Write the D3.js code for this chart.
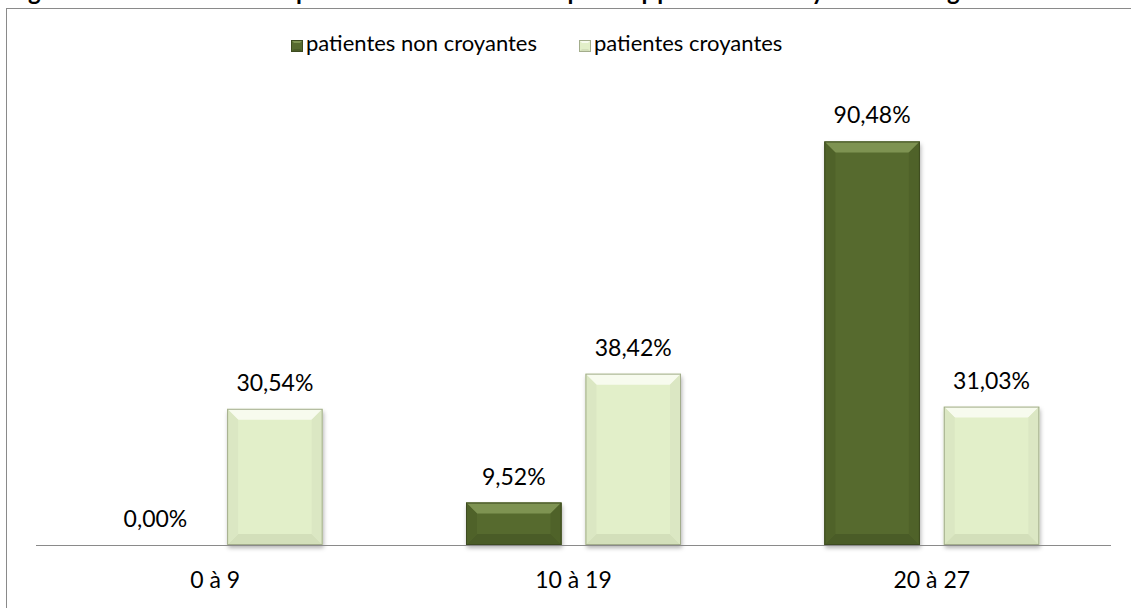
<!DOCTYPE html>
<html>
<head>
<meta charset="utf-8">
<script src="https://cdn.jsdelivr.net/npm/d3@7"></script>
<style>
  body { margin: 0; background: #fff; }
  svg { display: block; font-family: Lato, "Open Sans", sans-serif; }
</style>
</head>
<body>
<div id="chart"></div>
<script>
// values (percent)
const categories = ['0 à 9', '10 à 19', '20 à 27'];
const seriesNames = ['patientes non croyantes', 'patientes croyantes'];
const nonCroyantes = [0.00, 9.52, 90.48];
const croyantes = [30.54, 38.42, 31.03];
const titleText = 'Figure 10 : Score de dépression des femmes par rapport aux croyances religieuses';

const width = 1131;
const height = 608;

const colors = [
  {fill: '#566a2f', edge: '#3d4b20', top: '#7e9352', bottom: '#4a5c27', side: '#4f6229'},
  {fill: '#e2efc9', edge: '#a3ad8c', top: '#f7fbee', bottom: '#d3dfba', side: '#dbe7c3'},
];

const plotLeft = 36;
const plotRight = 1111;
const baseY = 545;
const topY = 99;

let svg = d3.select('#chart')
  .append('svg')
    .attr('width', width)
    .attr('height', height);

let defs = svg.append('defs');
let shadow = defs.append('filter')
    .attr('id', 'bar-shadow')
    .attr('x', '-20%')
    .attr('y', '-20%')
    .attr('width', '140%')
    .attr('height', '140%');
shadow.append('feDropShadow')
    .attr('dx', 1)
    .attr('dy', 3)
    .attr('stdDeviation', 2)
    .attr('flood-color', '#000')
    .attr('flood-opacity', 0.3);

// title, cut off at the top edge of the picture: only descenders show
svg.append('text')
    .attr('x', 4)
    .attr('y', -0.5)
    .attr('textLength', 1035)
    .attr('lengthAdjust', 'spacing')
    .attr('font-size', 24)
    .attr('font-weight', 'bold')
    .attr('fill', '#000')
    .text(titleText);

// chart frame
svg.append('rect')
    .attr('x', 6.5)
    .attr('y', 8.5)
    .attr('width', 1200)
    .attr('height', 700)
    .attr('fill', '#fff')
    .attr('stroke', '#8a8a8a')
    .attr('stroke-width', 1);

let x0 = d3.scaleBand()
    .domain(categories)
    .range([plotLeft, plotRight])
    .padding(0);

let x1 = d3.scaleBand()
    .domain(seriesNames)
    .range([0, x0.bandwidth()])
    .paddingInner(0.2)
    .paddingOuter(0.6);

let y = d3.scaleLinear()
    .domain([0, 100])
    .range([baseY, topY]);

let rows = categories.map(function(c, i) {
  return {category: c, values: [nonCroyantes[i], croyantes[i]]};
});

/**
* Draw one bevelled bar.
*/
function bevelBar(g, bx, by, bw, bh, c, b) {
  let bar = g.append('g');
  bar.append('rect')
      .attr('x', bx)
      .attr('y', by)
      .attr('width', bw)
      .attr('height', bh)
      .attr('fill', c.fill)
      .attr('filter', 'url(#bar-shadow)');
  let pts = {
    top: [[bx, by], [bx + bw, by], [bx + bw - b, by + b], [bx + b, by + b]],
    bottom: [[bx, by + bh], [bx + bw, by + bh], [bx + bw - b, by + bh - b], [bx + b, by + bh - b]],
    left: [[bx, by], [bx + b, by + b], [bx + b, by + bh - b], [bx, by + bh]],
    right: [[bx + bw, by], [bx + bw - b, by + b], [bx + bw - b, by + bh - b], [bx + bw, by + bh]],
  };
  let fills = {top: c.top, bottom: c.bottom, left: c.side, right: c.side};
  Object.keys(pts).forEach(function(k) {
    bar.append('polygon')
        .attr('points', pts[k].map(function(p) {
          return p.join(',');
        }).join(' '))
        .attr('fill', fills[k]);
  });
  bar.append('rect')
      .attr('x', bx + 0.5)
      .attr('y', by + 0.5)
      .attr('width', bw - 1)
      .attr('height', Math.max(0, bh - 1))
      .attr('fill', 'none')
      .attr('stroke', c.edge)
      .attr('stroke-width', 1);
}

let groups = svg.selectAll('.group')
    .data(rows)
  .enter()
  .append('g')
    .attr('class', 'group')
    .attr('transform', function(d) {
      return 'translate(' + x0(d.category) + ',0)';
    });

groups.each(function(d) {
  let g = d3.select(this);
  d.values.forEach(function(v, i) {
    let bx = x1(seriesNames[i]);
    let bw = x1.bandwidth();
    let by = y(v);
    let bh = baseY - by;
    if (bh > 0) {
      bevelBar(g, bx, by, bw, bh, colors[i], Math.min(11, bh / 3));
    }
    g.append('text')
        .attr('x', bx + bw / 2)
        .attr('y', by - 18)
        .attr('text-anchor', 'middle')
        .attr('font-size', 23)
        .attr('fill', '#000')
        .text(v.toFixed(2).replace('.', ',') + '%');
  });
});

// axis baseline
svg.append('line')
    .attr('x1', plotLeft)
    .attr('x2', plotRight)
    .attr('y1', baseY + 0.5)
    .attr('y2', baseY + 0.5)
    .attr('stroke', '#8a8a8a')
    .attr('stroke-width', 1);

// category labels
svg.selectAll('.cat')
    .data(categories)
  .enter()
  .append('text')
    .attr('class', 'cat')
    .attr('x', function(d) {
      return x0(d) + x0.bandwidth() / 2;
    })
    .attr('y', 588)
    .attr('text-anchor', 'middle')
    .attr('font-size', 23)
    .attr('fill', '#000')
    .text(function(d) {
      return d;
    });

// legend
let legendPos = [291, 579];
let legend = svg.selectAll('.legend')
    .data(seriesNames)
  .enter()
  .append('g')
    .attr('class', 'legend')
    .attr('transform', function(d, i) {
      return 'translate(' + legendPos[i] + ',40)';
    });

legend.each(function(d, i) {
  let c = colors[i];
  let g = d3.select(this);
  g.append('rect')
      .attr('width', 12)
      .attr('height', 12)
      .attr('fill', c.fill);
  g.append('polygon')
      .attr('points', '0,0 12,0 9,3 3,3')
      .attr('fill', c.top);
  g.append('polygon')
      .attr('points', '0,12 12,12 9,9 3,9')
      .attr('fill', c.bottom);
  g.append('rect')
      .attr('x', 0.5)
      .attr('y', 0.5)
      .attr('width', 11)
      .attr('height', 11)
      .attr('fill', 'none')
      .attr('stroke', c.edge);
  g.append('text')
      .attr('x', 15)
      .attr('y', 11)
      .attr('font-size', 22)
      .attr('fill', '#000')
      .text(d);
});
</script>
</body>
</html>
